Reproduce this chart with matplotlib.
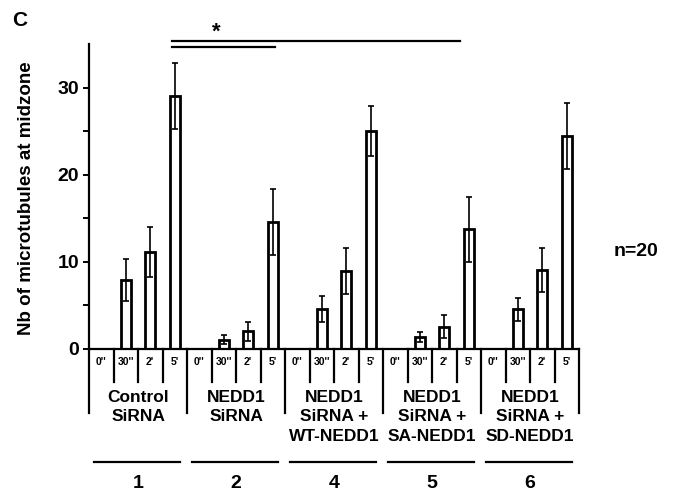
"""Midzone microtubule counts per condition and time point (bar chart with s.d.)."""
import matplotlib
matplotlib.use("Agg")
import matplotlib.pyplot as plt
import numpy as np

plt.rcParams.update({
    "font.family": ["Liberation Sans", "DejaVu Sans"],
    "font.weight": "bold",
    "axes.linewidth": 1.6,
})

# ---- data -----------------------------------------------------------------
group_ids = ["1", "2", "4", "5", "6"]
group_labels = ["Control\nSiRNA", "NEDD1\nSiRNA", "NEDD1\nSiRNA +\nWT-NEDD1",
                "NEDD1\nSiRNA +\nSA-NEDD1", "NEDD1\nSiRNA +\nSD-NEDD1"]
times = ["0''", "30''", "2'", "5'"]

means = [
    [0, 7.9, 11.1, 29.0],
    [0, 1.0, 2.0, 14.5],
    [0, 4.5, 8.9, 25.0],
    [0, 1.3, 2.5, 13.7],
    [0, 4.5, 9.0, 24.4],
]
sds = [
    [0, 2.4, 2.9, 3.8],
    [0, 0.5, 1.1, 3.8],
    [0, 1.5, 2.6, 2.9],
    [0, 0.6, 1.3, 3.7],
    [0, 1.3, 2.5, 3.8],
]

W, H = 689, 495
fig = plt.figure(figsize=(W / 100, H / 100), dpi=100)
x0, x1, y0, y1 = 89, 579, 348.5, 44
ax = fig.add_axes([x0 / W, 1 - y0 / H, (x1 - x0) / W, (y0 - y1) / H])

n_t = len(times)
xs = np.arange(len(group_ids) * n_t) + 0.5
vals = np.array(means).ravel()
errs = np.array(sds).ravel()
nz = vals > 0

ax.bar(xs[nz], vals[nz], width=0.42, color="white", edgecolor="black",
       linewidth=2.0, zorder=2)
ax.errorbar(xs[nz], vals[nz], yerr=errs[nz], fmt="none", ecolor="black",
            elinewidth=1.2, capsize=2, capthick=1.2, zorder=3)

ax.set_xlim(0, len(xs))
ax.set_ylim(0, 35)
ax.spines[["top", "right"]].set_visible(False)
ax.set_xticks([])
ax.set_yticks([0, 10, 20, 30])
ax.set_yticks([5, 15, 25], minor=True)
ax.tick_params(axis="y", which="both", direction="out", length=4, width=1.4,
               labelsize=14, pad=3)
for lab in ax.get_yticklabels():
    lab.set_fontweight("bold")

fig.text(27 / W, 1 - 198 / H, "Nb of microtubules at midzone", rotation=90,
         ha="center", va="center", fontsize=13.5, fontweight="bold")

# ---- category area below the axis -----------------------------------------
kw = dict(color="black", clip_on=False)
for i, x in enumerate(xs):
    ax.text(x, -1.6, times[i % n_t], ha="center", va="center", fontsize=7.5,
            fontweight="bold", clip_on=False)
for b in range(len(xs) + 1):
    depth = -7.4 if b % n_t == 0 else -3.8
    ax.plot([b, b], [0, depth], lw=1.6, **kw)

for g, (gid, glab) in enumerate(zip(group_ids, group_labels)):
    cx = g * n_t + n_t / 2
    ax.text(cx, -4.8, glab, ha="center", va="top", fontsize=12.5,
            fontweight="bold", linespacing=1.35, clip_on=False)
    ax.plot([g * n_t + 0.2, g * n_t + 3.7], [-13.1, -13.1], lw=1.6, **kw)
    ax.text(cx, -15.5, gid, ha="center", va="center", fontsize=14,
            fontweight="bold", clip_on=False)

# ---- significance bars ----------------------------------------------------
ax.plot([3.4, 15.15], [35.3, 35.3], lw=1.6, **kw)
ax.plot([3.4, 7.6], [34.7, 34.7], lw=1.6, **kw)
ax.text(5.2, 36.3, "*", ha="center", va="center", fontsize=16,
        fontweight="bold", clip_on=False)

fig.text(636 / W, 1 - 252 / H, "n=20", ha="center", va="center",
         fontsize=14, fontweight="bold")
fig.text(20 / W, 1 - 20 / H, "C", ha="center", va="center", fontsize=15,
         fontweight="bold")

fig.savefig("out.png", dpi=100)
